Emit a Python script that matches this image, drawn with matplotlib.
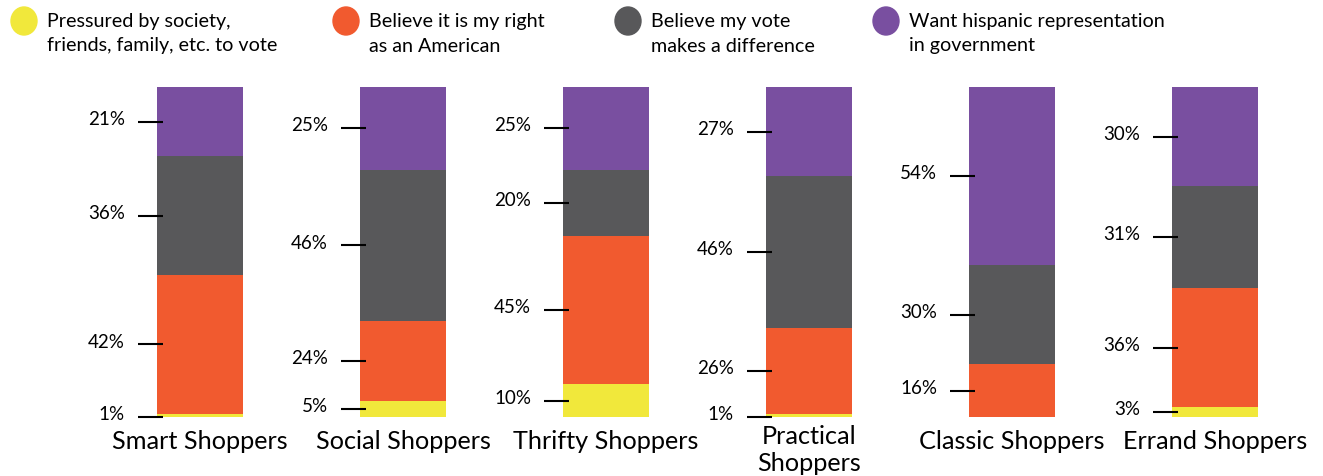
import numpy as np
import matplotlib.pyplot as plt

# shopper groups and the share for each reason (bottom to top of each bar)
groups = ["Smart Shoppers", "Social Shoppers", "Thrifty Shoppers",
          "Practical\nShoppers", "Classic Shoppers", "Errand Shoppers"]
reasons = ["Pressured by society,\nfriends, family, etc. to vote",
           "Believe it is my right\nas an American",
           "Believe my vote\nmakes a difference",
           "Want hispanic representation\nin government"]
pressured = [1, 5, 10, 1, 0, 3]
my_right = [42, 24, 45, 26, 16, 36]
difference = [36, 46, 20, 46, 30, 31]
representation = [21, 25, 25, 27, 54, 30]

colors = ["#F1E83B", "#F15A2F", "#58585A", "#794FA0"]
series = [pressured, my_right, difference, representation]

plt.rcParams['font.family'] = ['Lato', 'DejaVu Sans']

fig = plt.figure(figsize=(13.23, 4.77), dpi=100)
ax = fig.add_axes([0, 0, 1, 1])
ax.axis("off")

# one unit on x = 203 px, one unit on y = 3.3 px
px_x = 1 / 203
ax.set_xlim(-200 / 203, (1323 - 200) / 203)
ax.set_ylim(-(477 - 418) / 3.3, 100 + 88 / 3.3)

x = np.arange(len(groups))
width = 86 * px_x
bottom = np.zeros(len(groups))
for vals, c in zip(series, colors):
    vals = np.array(vals, dtype=float)
    ax.bar(x, vals, width, bottom=bottom, color=c, linewidth=0)
    for i, v in enumerate(vals):
        if v <= 0:
            continue
        yc = bottom[i] + v / 2 if v >= 3 else bottom[i]
        left = x[i] - width / 2
        ax.plot([left - 19 * px_x, left + 6 * px_x], [yc, yc],
                color="black", lw=1.5, solid_capstyle="butt")
        ax.text(left - 32 * px_x, yc + 1, f"{int(v)}%", ha="right",
                va="center", fontsize=13.5)
    bottom += vals

# group names under bars
for i, g in enumerate(groups):
    yy = -7 if "\n" not in g else -9.6
    ax.text(x[i], yy, g, ha="center", va="center", fontsize=18.2,
            linespacing=1.2)

# legend across the top
leg_x = [24, 346, 628, 886]
for lx, c, r in zip(leg_x, colors, reasons):
    xd = (lx - 200) / 203
    ax.add_patch(plt.matplotlib.patches.Ellipse(
        (xd, 100 + (88 - 22) / 3.3), 26 * px_x, 28 / 3.3,
        color=c, clip_on=False))
    ax.text(xd + 23 * px_x, 100 + (88 - 34) / 3.3, r, ha="left", va="center",
            fontsize=14.2, linespacing=1.5)

fig.savefig("out.png", dpi=100)
